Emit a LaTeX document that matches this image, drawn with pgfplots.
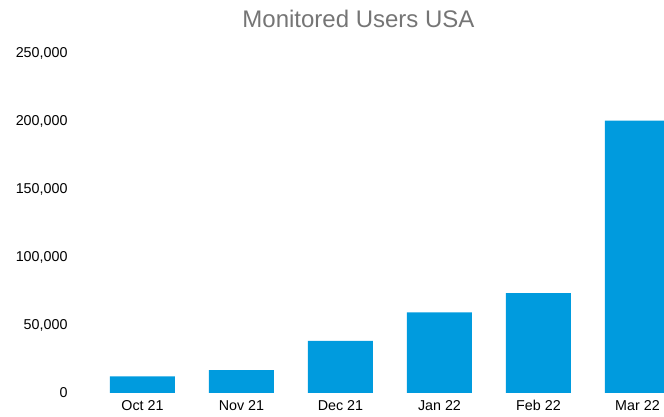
\documentclass[border=0pt]{standalone}
\usepackage{fontspec}
\setmainfont{Liberation Sans}
\usepackage{pgfplots}
\pgfplotsset{compat=1.18}
\definecolor{barblue}{RGB}{0,155,222}
\definecolor{titlegray}{RGB}{117,117,117}
\begin{document}
\begin{tikzpicture}
\begin{axis}[
  at={(93pt,24pt)}, anchor=south west,
  scale only axis, width=571pt, height=340pt,
  xmin=-0.5, xmax=5.268, ymin=0, ymax=250000,
  axis line style={draw=none},
  major tick length=0pt,
  scaled y ticks=false,
  xtick={0,1,2,3,4,5},
  xticklabels={Oct 21,Nov 21,Dec 21,Jan 22,Feb 22,Mar 22},
  ytick={0,50000,100000,150000,200000,250000},
  yticklabels={0,{50,000},{100,000},{150,000},{200,000},{250,000}},
  tick label style={font=\fontsize{14.3}{16}\selectfont, text=black},
  yticklabel style={xshift=-22pt},
  xticklabel style={yshift=-4pt},
  clip=true,
]
\addplot[ybar, bar width=65pt, fill=barblue, draw=none] coordinates {
  (0,12200) (1,16900) (2,38400) (3,59200) (4,73500) (5,200300)
};
\end{axis}
\node[font=\fontsize{24}{28}\selectfont, text=titlegray] at (358.5pt,398pt) {Monitored Users USA};
\pgfresetboundingbox
\useasboundingbox (0,0) rectangle (664pt,417pt);
\end{tikzpicture}
\end{document}
